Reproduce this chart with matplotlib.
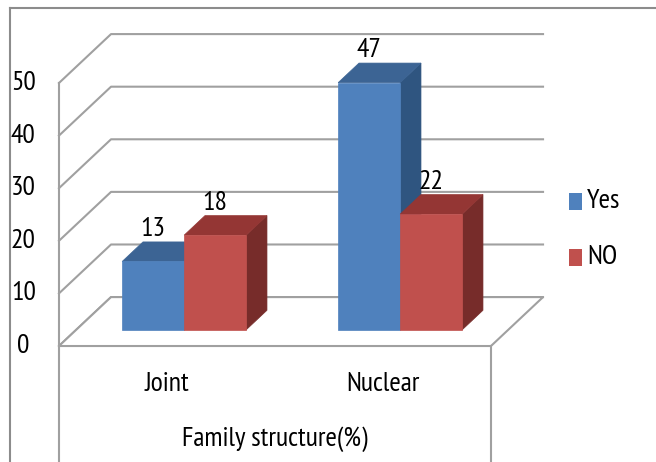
import matplotlib.pyplot as plt
from matplotlib.patches import Polygon, Rectangle
from matplotlib.lines import Line2D

# data
categories = ['Joint', 'Nuclear']
series = ['Yes', 'NO']
yes_vals = [13, 47]
no_vals = [18, 22]
yticks = [0, 10, 20, 30, 40, 50]
xlabel = 'Family structure(%)'

face_cols = {'Yes': ('#4F81BD', '#3C6494', '#2F5580'),
             'NO': ('#C0504D', '#943634', '#772C2A')}
grid_col = '#A0A0A0'
FONT = ['PT Sans Narrow', 'DejaVu Sans']
FS = 20

# fake 3d: depth d in [0, 1] shifts a point right/up
DX, DY = 0.241, 9.3
bar_w = 0.287
d_front, d_back = 0.33, 0.73


def proj(x, v, d):
    return (x + d * DX, v + d * DY)


fig = plt.figure(figsize=(6.56, 4.62), dpi=100)
ax = fig.add_axes([0, 0, 1, 1])
ax.set_xlim(-0.773, 2.264)
ax.set_ylim(-22.05, 65.78)
ax.axis('off')

# outer chart border (top and left only)
fig.add_artist(Line2D([10 / 656, 1], [1 - 8 / 462, 1 - 8 / 462], color='#8C8C8C', lw=1.5))
fig.add_artist(Line2D([10 / 656, 10 / 656], [0, 1 - 8 / 462], color='#8C8C8C', lw=1.5))

x_lo, x_hi = -0.5, len(categories) - 0.5

# walls / gridlines
for v in yticks:
    pts = [proj(x_lo, v, 0), proj(x_lo, v, 1), proj(x_hi, v, 1)]
    ax.plot([p[0] for p in pts], [p[1] for p in pts], color=grid_col, lw=1.5, zorder=1)
    ax.text(-0.665, v, str(v), ha='center', va='center', fontsize=FS, family=FONT, color='#000000')
ax.plot([x_lo, x_lo], [0, yticks[-1]], color=grid_col, lw=1.5, zorder=1)

# floor
floor = [proj(x_lo, 0, 0), proj(x_hi, 0, 0), proj(x_hi, 0, 1), proj(x_lo, 0, 1)]
ax.add_patch(Polygon(floor, closed=True, facecolor='white', edgecolor=grid_col, lw=1.5, zorder=1))
ax.plot([x_lo, x_lo], [0, -25], color=grid_col, lw=1.5, zorder=1)
ax.plot([x_hi, x_hi], [0, -25], color=grid_col, lw=1.5, zorder=1)


def bar3d(x0, v, cols, z):
    x1 = x0 + bar_w
    front = [proj(x0, 0, d_front), proj(x1, 0, d_front), proj(x1, v, d_front), proj(x0, v, d_front)]
    top = [proj(x0, v, d_front), proj(x1, v, d_front), proj(x1, v, d_back), proj(x0, v, d_back)]
    side = [proj(x1, 0, d_front), proj(x1, 0, d_back), proj(x1, v, d_back), proj(x1, v, d_front)]
    for poly, c in zip([side, top, front], [cols[2], cols[1], cols[0]]):
        ax.add_patch(Polygon(poly, closed=True, facecolor=c, edgecolor=c, lw=0.5, zorder=z))
    lx, ly = proj(x0 + bar_w / 2, v, d_back)
    ax.text(lx - DX * (d_back - d_front), ly + 0.2, str(v), ha='center', va='bottom',
            fontsize=FS, family=FONT, color='#000000', zorder=10)


for i, cat in enumerate(categories):
    for j, (name, vals) in enumerate(zip(series, [yes_vals, no_vals])):
        bar3d(i - bar_w + j * bar_w, vals[i], face_cols[name], 2 + i * 2 + j)
    ax.text(i, -7.3, cat, ha='center', va='center', fontsize=FS, family=FONT)

ax.text((len(categories) - 1) / 2, -17.8, xlabel, ha='center', va='center', fontsize=FS, family=FONT)

# legend
for j, name in enumerate(series):
    yc = 1 - (201 + 56 * j) / 462
    fig.patches.append(Rectangle((569 / 656, yc - 8.5 / 462), 13 / 656, 17 / 462,
                                 transform=fig.transFigure,
                                 facecolor=face_cols[name][0], edgecolor='none'))
    fig.text(587 / 656, yc, name, ha='left', va='center', fontsize=FS, family=FONT)

fig.savefig('out.png', dpi=100)
